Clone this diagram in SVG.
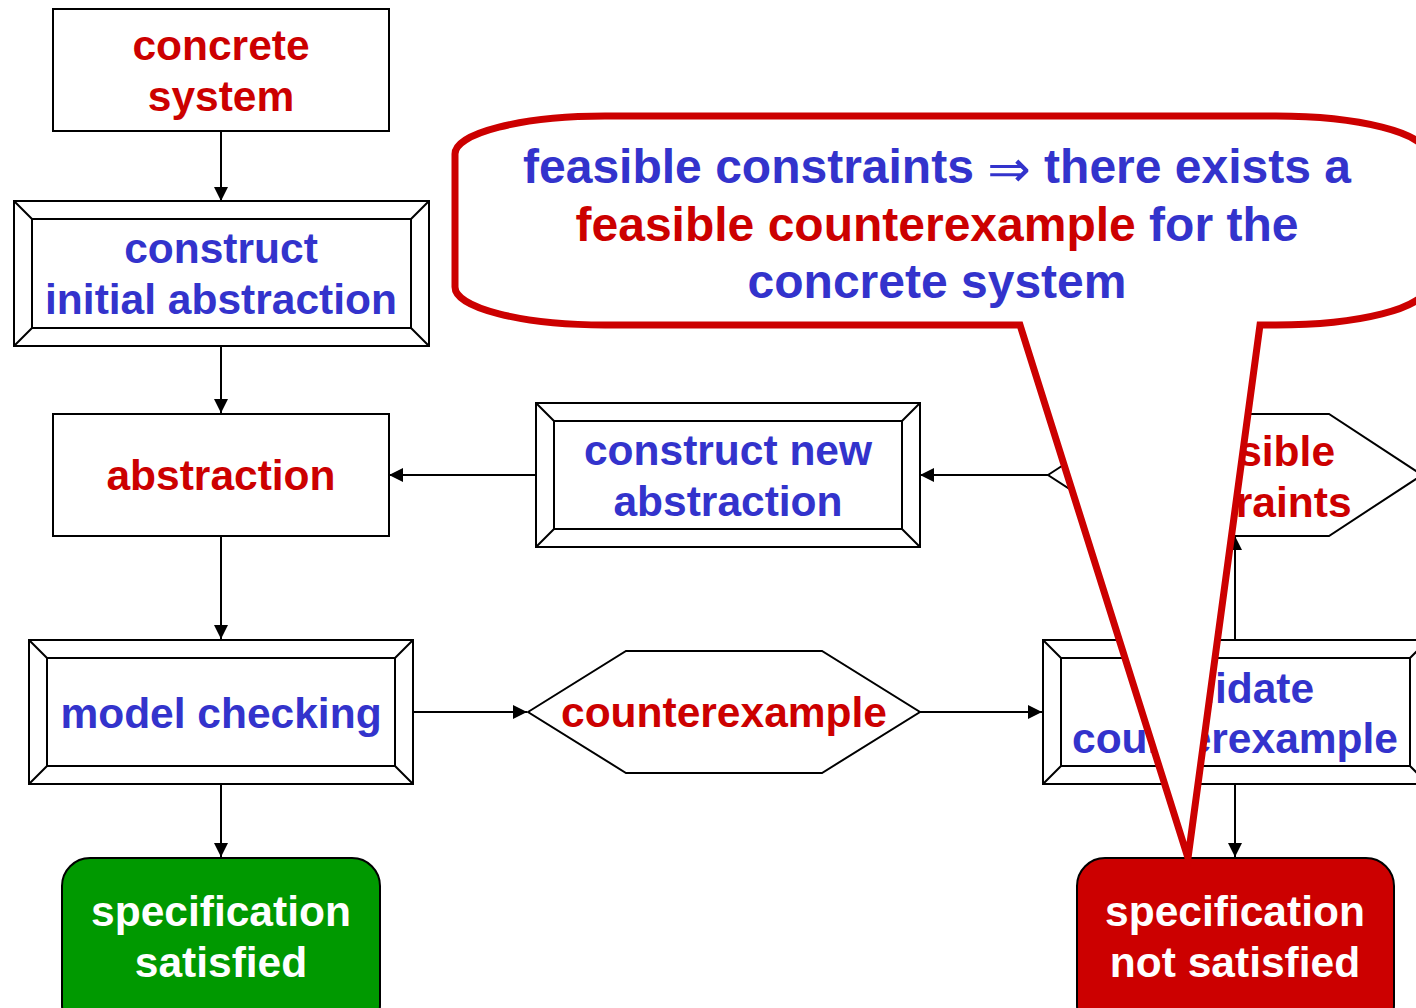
<svg xmlns="http://www.w3.org/2000/svg" width="1416" height="1008" viewBox="0 0 1416 1008">
  <defs>
    <marker id="arrow" markerUnits="userSpaceOnUse" markerWidth="14" markerHeight="14" refX="14" refY="7" orient="auto">
      <path d="M0,0 L14,7 L0,14 Z" fill="#000"/>
    </marker>
    <style>
      .box { fill: #fff; stroke: #000; stroke-width: 2; }
      .bevel { fill: none; stroke: #000; stroke-width: 2; }
      .edge { fill: none; stroke: #000; stroke-width: 2; marker-end: url(#arrow); }
      text { font-family: "Liberation Sans", Arial, sans-serif; font-weight: bold; font-size: 42.5px; text-anchor: middle; }
      .red { fill: #CC0000; }
      .blue { fill: #3333CC; }
      .white { fill: #fff; }
      .callout-text { font-size: 48px; }
    </style>
  </defs>
  <rect width="1416" height="1008" fill="#fff"/>

  <!-- connectors -->
  <g id="connectors">
    <path class="edge" d="M221,131 V201"/>
    <path class="edge" d="M221,346 V413"/>
    <path class="edge" d="M221,536 V639"/>
    <path class="edge" d="M221,784 V857"/>
    <path class="edge" d="M413,712 H527"/>
    <path class="edge" d="M920,712 H1042"/>
    <path class="edge" d="M1048,475 H920"/>
    <path class="edge" d="M536,475 H389"/>
    <path class="edge" d="M1235,640 V536"/>
    <path class="edge" d="M1235,784 V857"/>
  </g>

  <g id="concrete-system">
    <rect class="box" x="53" y="9" width="336" height="122"/>
    <text class="red" x="221" y="60">concrete</text>
    <text class="red" x="221" y="111">system</text>
  </g>

  <g id="construct-initial-abstraction">
    <rect class="box" x="14" y="201" width="415" height="145"/>
    <rect class="bevel" x="32" y="219" width="379" height="109"/>
    <path class="bevel" d="M14,201 L32,219 M429,201 L411,219 M14,346 L32,328 M429,346 L411,328"/>
    <text class="blue" x="221" y="263">construct</text>
    <text class="blue" x="221" y="314">initial abstraction</text>
  </g>

  <g id="abstraction">
    <rect class="box" x="53" y="414" width="336" height="122"/>
    <text class="red" x="221" y="490">abstraction</text>
  </g>

  <g id="construct-new-abstraction">
    <rect class="box" x="536" y="403" width="384" height="144"/>
    <rect class="bevel" x="554" y="421" width="348" height="108"/>
    <path class="bevel" d="M536,403 L554,421 M920,403 L902,421 M536,547 L554,529 M920,547 L902,529"/>
    <text class="blue" x="728" y="465">construct new</text>
    <text class="blue" x="728" y="516">abstraction</text>
  </g>

  <g id="model-checking">
    <rect class="box" x="29" y="640" width="384" height="144"/>
    <rect class="bevel" x="47" y="658" width="348" height="108"/>
    <path class="bevel" d="M29,640 L47,658 M413,640 L395,658 M29,784 L47,766 M413,784 L395,766"/>
    <text class="blue" x="221" y="728">model checking</text>
  </g>

  <g id="counterexample">
    <polygon class="box" points="528,712 626,651 822,651 920,712 822,773 626,773"/>
    <text class="red" x="724" y="727">counterexample</text>
  </g>

  <g id="infeasible-constraints">
    <polygon class="box" points="1048,475 1142,414 1329,414 1422,475 1329,536 1142,536"/>
    <text class="red" x="1237" y="466">infeasible</text>
    <text class="red" x="1237" y="517">constraints</text>
  </g>

  <g id="validate-counterexample">
    <rect class="box" x="1043" y="640" width="385" height="144"/>
    <rect class="bevel" x="1061" y="658" width="349" height="108"/>
    <path class="bevel" d="M1043,640 L1061,658 M1428,640 L1410,658 M1043,784 L1061,766 M1428,784 L1410,766"/>
    <text class="blue" x="1235" y="703">validate</text>
    <text class="blue" x="1235" y="753">counterexample</text>
  </g>

  <g id="specification-satisfied">
    <rect x="62" y="858" width="318" height="175" rx="28" ry="28" fill="#009900" stroke="#000" stroke-width="2"/>
    <text class="white" x="221" y="926">specification</text>
    <text class="white" x="221" y="977">satisfied</text>
  </g>

  <g id="specification-not-satisfied">
    <rect x="1077" y="858" width="317" height="175" rx="28" ry="28" fill="#CC0000" stroke="#000" stroke-width="2"/>
    <text class="white" x="1235" y="926">specification</text>
    <text class="white" x="1235" y="977">not satisfied</text>
  </g>

  <!-- speech-bubble note pointing at the failure outcome -->
  <g id="callout">
    <path d="M605,116 H1276 A150,38 0 0 1 1426,154 V287 A150,38 0 0 1 1276,325 H1260 L1188,858 L1020,325 H605 A150,38 0 0 1 455,287 V154 A150,38 0 0 1 605,116 Z"
          fill="#fff" stroke="#CC0000" stroke-width="7" stroke-linejoin="miter" stroke-miterlimit="20"/>
    <text class="callout-text blue" x="937" y="183">feasible constraints <tspan font-family="'DejaVu Sans', sans-serif" font-weight="normal" font-size="52px" dy="4">⇒</tspan><tspan dy="-4"> there exists a</tspan></text>
    <text class="callout-text" x="937" y="241"><tspan class="red">feasible counterexample</tspan><tspan class="blue"> for the</tspan></text>
    <text class="callout-text blue" x="937" y="298">concrete system</text>
  </g>
</svg>
